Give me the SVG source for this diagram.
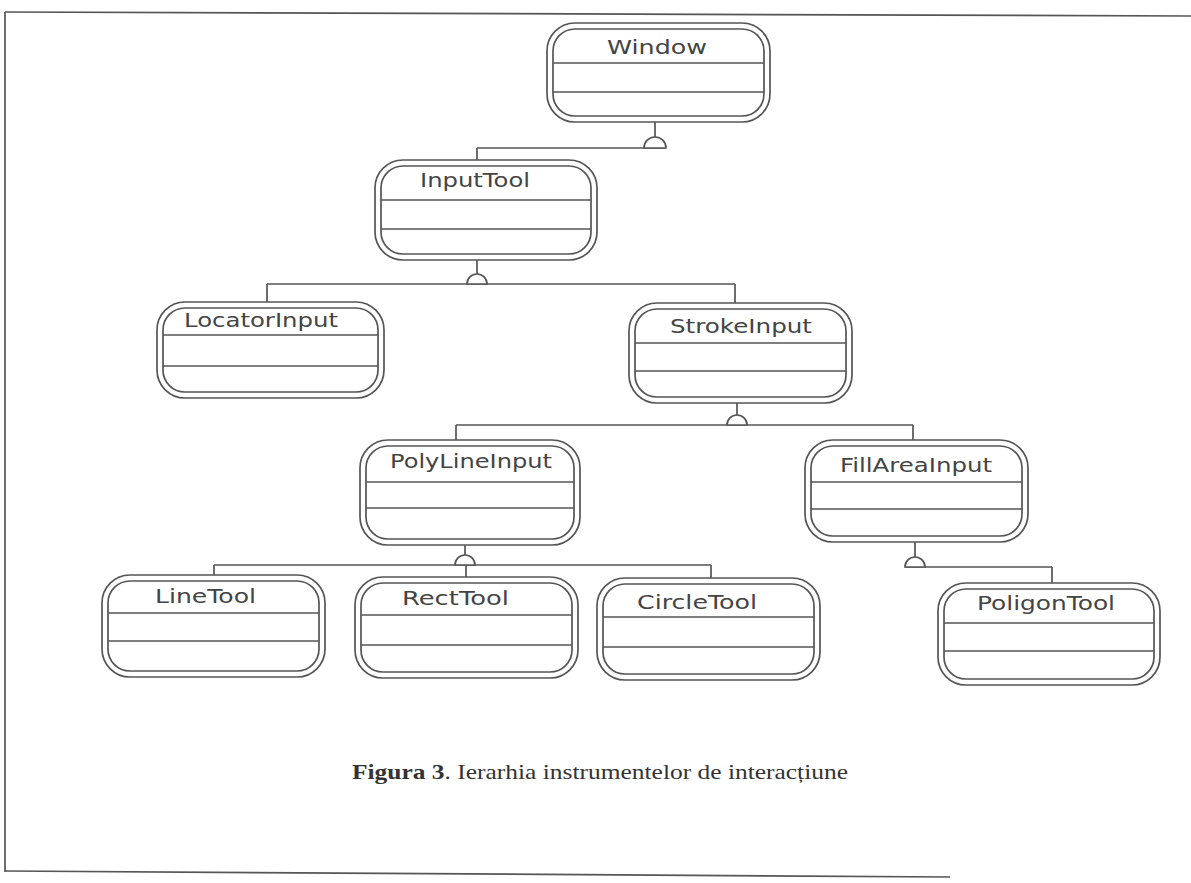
<svg xmlns="http://www.w3.org/2000/svg" width="1191" height="883" viewBox="0 0 1191 883">
<style>
.o{fill:#fff;stroke:#555;stroke-width:1.7}
.i{fill:none;stroke:#555;stroke-width:1.7}
.c{stroke:#555;stroke-width:1.7}
.t{font-family:"DejaVu Sans",sans-serif;font-size:20px;fill:#444}
.w{fill:none;stroke:#555;stroke-width:1.7}
.d{fill:#fff;stroke:#555;stroke-width:1.7}
.cap{font-family:"Liberation Serif",serif;font-size:21px;fill:#333}
</style>
<rect width="1191" height="883" fill="#fff"/>
<g id="frame" class="w">
<path d="M5,12 L1191,16"/>
<path d="M5,12 L5,872"/>
<path d="M5,871 L950,877"/>
</g>
<g id="connectors">
<path class="w" d="M655,122 V138 M477,148 H665 M477,148 V160"/>
<path class="d" d="M644,148 A11,11 0 0 1 666,148 Z"/>
<path class="w" d="M477,260 V274 M267,284 H735 M267,284 V302 M735,284 V303"/>
<path class="d" d="M467,284 A10,10 0 0 1 487,284 Z"/>
<path class="w" d="M737,403 V415 M456,425 H913 M456,425 V440 M913,425 V440"/>
<path class="d" d="M727,425 A10,10 0 0 1 747,425 Z"/>
<path class="w" d="M465,545 V555 M214,565 H711 M214,565 V575 M466,565 V577 M711,565 V578"/>
<path class="d" d="M455,565 A10,10 0 0 1 475,565 Z"/>
<path class="w" d="M915,542 V557 M905,567 H1052 M1052,567 V583"/>
<path class="d" d="M905,567 A10,10 0 0 1 925,567 Z"/>
</g>
<g id="Window">
<rect class="o" x="547" y="23" width="223" height="99" rx="28"/>
<rect class="i" x="553" y="29" width="211" height="87" rx="22"/>
<path class="c" d="M553,63 H764 M553,92 H764"/>
<text class="t" x="607" y="54" textLength="100" lengthAdjust="spacingAndGlyphs">Window</text>
</g>
<g id="InputTool">
<rect class="o" x="375" y="160" width="222" height="100" rx="28"/>
<rect class="i" x="381" y="166" width="210" height="88" rx="22"/>
<path class="c" d="M381,200 H591 M381,229 H591"/>
<text class="t" x="420" y="187" textLength="110" lengthAdjust="spacingAndGlyphs">InputTool</text>
</g>
<g id="LocatorInput">
<rect class="o" x="157" y="302" width="227" height="96" rx="28"/>
<rect class="i" x="163" y="308" width="215" height="84" rx="22"/>
<path class="c" d="M163,335 H378 M163,366 H378"/>
<text class="t" x="184" y="327" textLength="154" lengthAdjust="spacingAndGlyphs">LocatorInput</text>
</g>
<g id="StrokeInput">
<rect class="o" x="629" y="303" width="223" height="100" rx="28"/>
<rect class="i" x="635" y="309" width="211" height="88" rx="22"/>
<path class="c" d="M635,343 H846 M635,371 H846"/>
<text class="t" x="670" y="333" textLength="142" lengthAdjust="spacingAndGlyphs">StrokeInput</text>
</g>
<g id="PolyLineInput">
<rect class="o" x="360" y="440" width="220" height="105" rx="28"/>
<rect class="i" x="366" y="446" width="208" height="93" rx="22"/>
<path class="c" d="M366,482 H574 M366,508 H574"/>
<text class="t" x="390" y="468" textLength="162" lengthAdjust="spacingAndGlyphs">PolyLineInput</text>
</g>
<g id="FillAreaInput">
<rect class="o" x="805" y="440" width="223" height="102" rx="28"/>
<rect class="i" x="811" y="446" width="211" height="90" rx="22"/>
<path class="c" d="M811,482 H1022 M811,509 H1022"/>
<text class="t" x="840" y="472" textLength="152" lengthAdjust="spacingAndGlyphs">FillAreaInput</text>
</g>
<g id="LineTool">
<rect class="o" x="102" y="575" width="223" height="102" rx="28"/>
<rect class="i" x="108" y="581" width="211" height="90" rx="22"/>
<path class="c" d="M108,613 H319 M108,641 H319"/>
<text class="t" x="155" y="603" textLength="101" lengthAdjust="spacingAndGlyphs">LineTool</text>
</g>
<g id="RectTool">
<rect class="o" x="355" y="577" width="223" height="101" rx="28"/>
<rect class="i" x="361" y="583" width="211" height="89" rx="22"/>
<path class="c" d="M361,615 H572 M361,645 H572"/>
<text class="t" x="402" y="605" textLength="107" lengthAdjust="spacingAndGlyphs">RectTool</text>
</g>
<g id="CircleTool">
<rect class="o" x="597" y="578" width="223" height="102" rx="28"/>
<rect class="i" x="603" y="584" width="211" height="90" rx="22"/>
<path class="c" d="M603,617 H814 M603,647 H814"/>
<text class="t" x="637" y="609" textLength="120" lengthAdjust="spacingAndGlyphs">CircleTool</text>
</g>
<g id="PolygonTool">
<rect class="o" x="938" y="583" width="222" height="102" rx="28"/>
<rect class="i" x="944" y="589" width="210" height="90" rx="22"/>
<path class="c" d="M944,623 H1154 M944,651 H1154"/>
<text class="t" x="977" y="610" textLength="138" lengthAdjust="spacingAndGlyphs">PoligonTool</text>
</g>
<text class="cap" x="352" y="779" textLength="496" lengthAdjust="spacingAndGlyphs"><tspan font-weight="bold">Figura 3</tspan>. Ierarhia instrumentelor de interacțiune</text>
</svg>
